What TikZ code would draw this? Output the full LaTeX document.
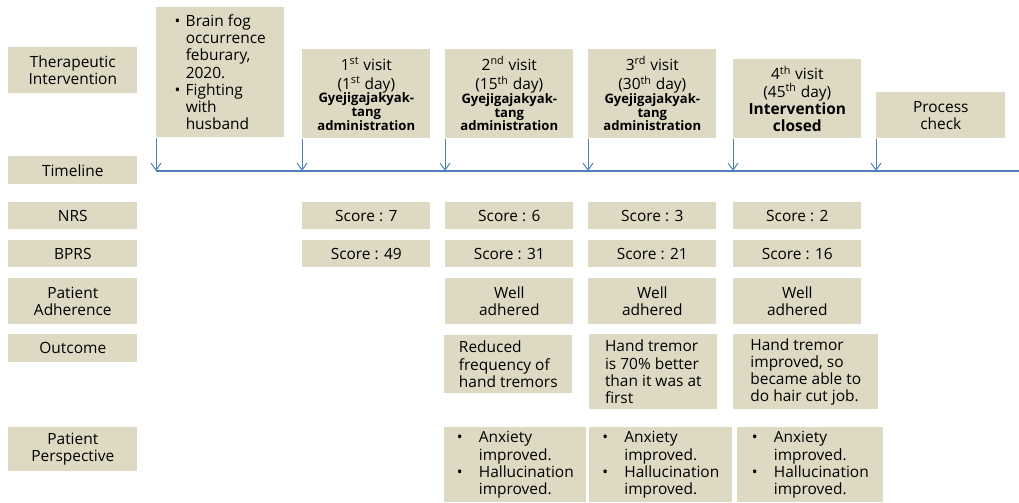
\documentclass[tikz,border=0pt]{standalone}
\usepackage{fontspec}
\setmainfont{Open Sans}
\usetikzlibrary{arrows.meta}
\definecolor{tan}{HTML}{DDD9C3}
\definecolor{lineblue}{HTML}{4F7FBA}
\newcommand{\bul}[1]{\makebox[#1][l]{\textbullet}}
\newcommand{\gya}{\fontsize{9.3}{10}\selectfont\bfseries}

\begin{document}
\begin{tikzpicture}[x=0.025cm,y=-0.025cm,
  bx/.style={fill=tan,anchor=north west,inner sep=0pt,align=center,
    font=\fontsize{11}{12.2}\selectfont},
  lbx/.style={bx,align=left},
  tip/.style={draw=lineblue,line width=0.7pt,-{Straight Barb[length=5pt,width=7pt]}}]
\useasboundingbox (0,0) rectangle (1019,502);
% row labels
\node[bx,minimum width=3.225cm,minimum height=1.15cm] (lTI) at (8,47) {Therapeutic\\Intervention};
\node[bx,minimum width=3.225cm,minimum height=0.7cm] (lTL) at (8,156) {Timeline};
\node[bx,minimum width=3.225cm,minimum height=0.675cm] (lNRS) at (8,202) {NRS};
\node[bx,minimum width=3.225cm,minimum height=0.675cm] (lBPRS) at (8,240) {BPRS};
\node[bx,minimum width=3.225cm,minimum height=1.15cm] (lPA) at (8,278) {Patient\\Adherence};
\node[bx,minimum width=3.225cm,minimum height=0.7cm] (lOut) at (8,334) {Outcome};
\node[bx,minimum width=3.225cm,minimum height=1.1cm] (lPP) at (8,427) {Patient\\Perspective};
% interventions
\node[lbx,minimum width=3.2cm,minimum height=3.25cm] (ev0) at (156,7)
  {\bul{0.275cm}Brain fog\\\hspace*{0.275cm}occurrence\\\hspace*{0.275cm}feburary,\\\hspace*{0.275cm}2020.\\
   \bul{0.275cm}Fighting\\\hspace*{0.275cm}with\\\hspace*{0.275cm}husband};
\foreach \x/\n/\ns/\d/\ds [count=\i] in {302/1/st/1/st,445/2/nd/15/th,588/3/rd/30/th}
  \node[bx,minimum width=3.2cm,minimum height=2.225cm] (v\i) at (\x,49)
    {\n\textsuperscript{\ns} visit\\[1.5pt](\d\textsuperscript{\ds} day)\\[-2.5pt]
     {\gya Gyejigajakyak-}\\[-2.5pt]{\gya tang}\\[-2.5pt]{\gya administration}};
\node[bx,minimum width=3.2cm,minimum height=1.975cm] (v4) at (733,59)
  {4\textsuperscript{th} visit\\(45\textsuperscript{th} day)\\\textbf{Intervention}\\\textbf{closed}};
\node[bx,minimum width=3.225cm,minimum height=1.15cm] (pc) at (876,92) {Process\\check};
% timeline
\coordinate (tlA) at (156,171);
\coordinate (tlB) at (1019,171);
\draw[draw=lineblue,line width=1pt] (tlA) -- (tlB);
\foreach \b in {ev0,v1,v2,v3,v4,pc}
  \draw[tip] (\b.south west) -- (\b.south west |- tlA);
% scores
\foreach \x/\s [count=\i] in {302/7,445/6,588/3,733/2}
  \node[bx,minimum width=3.2cm,minimum height=0.675cm] (n\i) at (\x,202) {Score : \s};
\foreach \x/\s [count=\i] in {302/49,445/31,588/21,733/16}
  \node[bx,minimum width=3.2cm,minimum height=0.675cm] (b\i) at (\x,240) {Score : \s};
\foreach \x [count=\i from 2] in {445,588,733}
  \node[bx,minimum width=3.2cm,minimum height=1.15cm] (a\i) at (\x,278) {Well\\adhered};
% outcomes
\node[lbx,minimum width=3.2cm,minimum height=1.45cm] (o2) at (444,335)
  {Reduced\\frequency of\\hand tremors};
\node[lbx,minimum width=3.2cm,minimum height=1.875cm] (o3) at (589,334)
  {Hand tremor\\is 70\% better\\than it was at\\first};
\node[lbx,minimum width=3.625cm,minimum height=1.875cm] (o4) at (733,334)
  {Hand tremor\\improved, so\\became able to\\do hair cut job.};
% patient perspective
\foreach \x/\w [count=\i from 2] in {444/3.55,589/3.575,737/3.65}
  \node[lbx,minimum width=\w cm,minimum height=1.875cm] (p\i) at (\x,427)
    {\bul{0.55cm}Anxiety\\\hspace*{0.55cm}improved.\\\bul{0.55cm}Hallucination\\\hspace*{0.55cm}improved.};
\end{tikzpicture}
\end{document}
